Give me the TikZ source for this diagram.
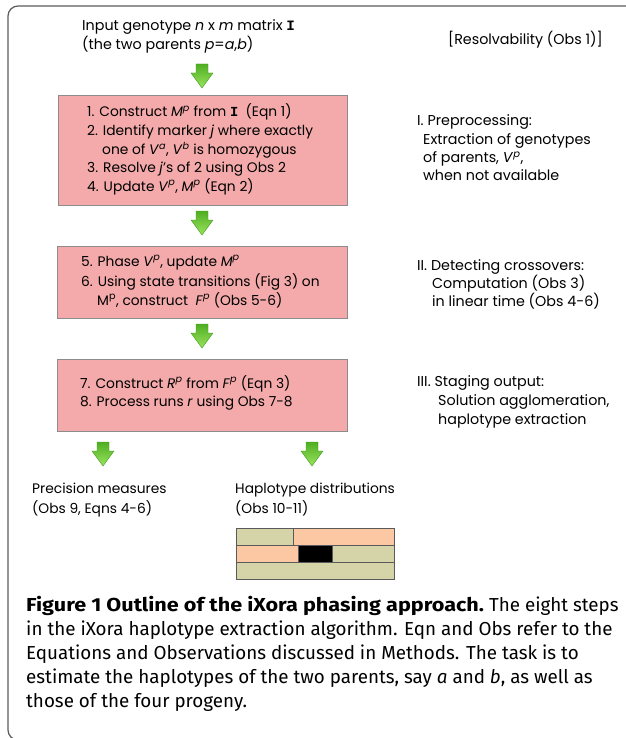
\documentclass[tikz,border=0pt]{standalone}
\usepackage{fontspec}
\setmainfont{Poppins}
\newfontfamily\capfont{Fira Sans}
\newfontfamily\monoI{Liberation Mono}
\definecolor{boxfill}{HTML}{F4AAAA}
\definecolor{boxline}{HTML}{8C8C8C}
\definecolor{beige}{HTML}{D4D4A8}
\definecolor{peach}{HTML}{FCC8A4}
\definecolor{barline}{HTML}{5A5A5A}
\definecolor{arrtop}{HTML}{4FAE22}
\definecolor{arrbot}{HTML}{9AE45E}
\definecolor{arredge}{HTML}{3E9A1A}
\definecolor{framecol}{HTML}{5A5A5A}
\newcommand{\spp}[1]{\textsuperscript{#1}}
\newcommand{\matI}{{\monoI\bfseries I}}
\newcommand{\garrow}[2]{%
  \path[top color=arrtop,bottom color=arrbot,draw=arredge,line width=0.4pt]
    (#1-6,#2) -- (#1+6,#2) -- (#1+6,#2+9) -- (#1+11,#2+9) -- (#1,#2+24)
    -- (#1-11,#2+9) -- (#1-6,#2+9) -- cycle;}
\tikzset{
  stepbox/.style={draw=boxline,fill=boxfill,line width=0.8pt},
  ln/.style={anchor=west,inner sep=0pt,font=\fontsize{13.8}{16}\selectfont,text height=8pt,text depth=2pt},
  rl/.style={ln,font=\fontsize{14.3}{16}\selectfont},
  captext/.style={anchor=base west,inner sep=0pt,font=\capfont\fontsize{18.8}{23}\selectfont},
  bar/.style={draw=barline,line width=1pt},
}
\begin{document}
\begin{tikzpicture}[x=1pt,y=-1pt]
\useasboundingbox (0,0) rectangle (625,738);
% frame
\draw[framecol,line width=1.2pt,rounded corners=10pt] (640,6) -- (8,6) -- (8,740) -- (40,740);
% top input
\node[rl] (in1) at (82,28) {Input genotype \textit{n} x \textit{m} matrix \matI};
\node[rl] (in2) at (82,47) {(the two parents \textit{p}=\textit{a},\textit{b})};
\node[rl] (res) at (448,42) {[Resolvability (Obs 1)]};
\garrow{202}{64}
% box 1
\draw[stepbox] (58,95) rectangle (347,205);
\node[ln] (s1) at (87,114) {1. Construct \textit{M}\spp{\textit{p}} from \matI\ \ (Eqn 1)};
\node[ln] (s2) at (87,133) {2. Identify marker \textit{j} where exactly};
\node[ln] (s2b) at (102,152) {one of \textit{V}\spp{\textit{a}}, \textit{V}\spp{\textit{b}} is homozygous};
\node[ln] (s3) at (87,170) {3. Resolve \textit{j}'s of 2 using Obs 2};
\node[ln] (s4) at (87,188) {4. Update \textit{V}\spp{\textit{p}}, \textit{M}\spp{\textit{p}} (Eqn 2)};
\node[rl] (r1a) at (417,123) {I. Preprocessing:};
\node[rl] (r1b) at (423,142) {Extraction of genotypes};
\node[rl] (r1c) at (423,160) {of parents, \textit{V}\spp{\textit{p}},};
\node[rl] (r1d) at (423,178) {when not available};
\garrow{202}{211}
% box 2
\draw[stepbox] (57,246) rectangle (347,318);
\node[ln] (s5) at (81,263) {5. Phase \textit{V}\spp{\textit{p}}, update \textit{M}\spp{\textit{p}}};
\node[ln] (s6) at (81,283) {6. Using state transitions (Fig 3) on};
\node[ln] (s6b) at (97,302) {M\spp{p}, construct \ \textit{F}\spp{\textit{p}} (Obs 5-6)};
\node[rl] (r2a) at (417,267) {II. Detecting crossovers:};
\node[rl] (r2b) at (432,285) {Computation (Obs 3)};
\node[rl] (r2c) at (432,303) {in linear time (Obs 4-6)};
\garrow{202}{324}
% box 3
\draw[stepbox] (57,359) rectangle (347,431);
\node[ln] (s7) at (80,385) {7. Construct \textit{R}\spp{\textit{p}} from \textit{F}\spp{\textit{p}} (Eqn 3)};
\node[ln] (s8) at (80,403) {8. Process runs \textit{r} using Obs 7-8};
\node[rl] (r3a) at (417,383) {III. Staging output:};
\node[rl] (r3b) at (438,402) {Solution agglomeration,};
\node[rl] (r3c) at (438,421) {haplotype extraction};
\garrow{103}{442}
\garrow{312}{442}
\node[ln] (o1a) at (32,490) {Precision measures};
\node[ln] (o1b) at (32,510) {(Obs 9, Eqns 4-6)};
\node[ln] (o2a) at (235,490) {Haplotype distributions};
\node[ln] (o2b) at (235,510) {(Obs 10-11)};
% haplotype bars
\draw[bar,fill=beige] (236,528) rectangle (293,545);
\draw[bar,fill=peach] (293,528) rectangle (394,545);
\draw[bar,fill=peach] (236,545) rectangle (298,562);
\draw[bar,fill=black] (298,545) rectangle (332,562);
\draw[bar,fill=beige] (332,545) rectangle (394,562);
\draw[bar,fill=beige] (236,562) rectangle (394,579);
% caption
\node[captext] (c1) at (26,611) {\scalebox{1.15}[1]{\textbf{Figure 1 Outline of the iXora phasing approach.}} The eight steps};
\node[captext] (c2) at (26,635) {in the iXora haplotype extraction algorithm. Eqn and Obs refer to the};
\node[captext] (c3) at (26,659) {Equations and Observations discussed in Methods. The task is to};
\node[captext] (c4) at (26,683) {estimate the haplotypes of the two parents, say \textit{a} and \textit{b}, as well as};
\node[captext] (c5) at (26,707) {those of the four progeny.};
\end{tikzpicture}
\end{document}
